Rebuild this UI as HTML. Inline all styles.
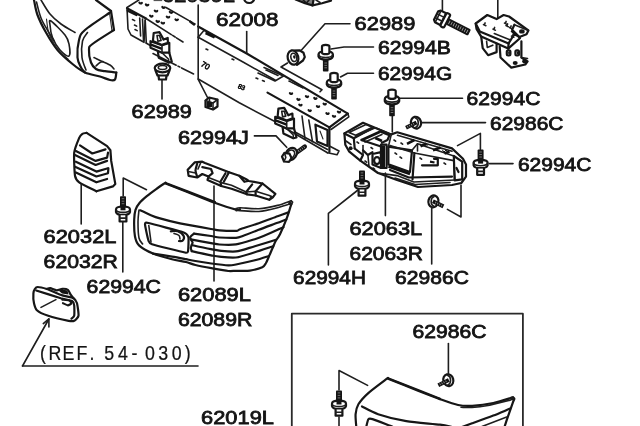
<!DOCTYPE html>
<html><head><meta charset="utf-8"><title>Front bumper parts diagram</title>
<style>
html,body{margin:0;padding:0;background:#fff;overflow:hidden}
svg{display:block}
text{font-family:"Liberation Sans",Arial,sans-serif;font-size:18.6px;fill:#141414;stroke:#141414;stroke-width:0.8px}
.l{fill:none;stroke:#1e1e1e;stroke-width:1.6;stroke-linecap:round;stroke-linejoin:round}
.t{fill:none;stroke:#262626;stroke-width:1.1;stroke-linecap:round;stroke-linejoin:round}
.b{fill:none;stroke:#161616;stroke-width:2.2;stroke-linecap:round;stroke-linejoin:round}
.wf{fill:#fff}
.f{fill:#141414;stroke:none}
text.ref{font-size:20.2px;stroke-width:0.25px}
</style></head><body>
<svg width="640" height="426" viewBox="0 0 640 426">
<defs><filter id="g" x="0" y="0" width="640" height="426" filterUnits="userSpaceOnUse"><feOffset dx="0" dy="0"/></filter></defs>
<rect width="640" height="426" fill="#fff"/>
<g id="all" filter="url(#g)">
<g id="labels">
<text x="216.1" y="26.2" textLength="62.3" lengthAdjust="spacingAndGlyphs">62008</text>
<text x="354.6" y="29.6" textLength="60.8" lengthAdjust="spacingAndGlyphs">62989</text>
<text x="377.9" y="54.3" textLength="73" lengthAdjust="spacingAndGlyphs">62994B</text>
<text x="377.9" y="79.5" textLength="74.3" lengthAdjust="spacingAndGlyphs">62994G</text>
<text x="466.6" y="105" textLength="73.8" lengthAdjust="spacingAndGlyphs">62994C</text>
<text x="490.1" y="129.6" textLength="73.3" lengthAdjust="spacingAndGlyphs">62986C</text>
<text x="517.9" y="170.5" textLength="73.5" lengthAdjust="spacingAndGlyphs">62994C</text>
<text x="131.6" y="118" textLength="60.3" lengthAdjust="spacingAndGlyphs">62989</text>
<text x="177.9" y="143.8" textLength="71" lengthAdjust="spacingAndGlyphs">62994J</text>
<text x="43.6" y="243" textLength="72.8" lengthAdjust="spacingAndGlyphs">62032L</text>
<text x="43.6" y="268" textLength="74.3" lengthAdjust="spacingAndGlyphs">62032R</text>
<text x="86.6" y="292.5" textLength="74.3" lengthAdjust="spacingAndGlyphs">62994C</text>
<text x="177.9" y="301.2" textLength="73" lengthAdjust="spacingAndGlyphs">62089L</text>
<text x="177.9" y="326.2" textLength="74.5" lengthAdjust="spacingAndGlyphs">62089R</text>
<text x="349.5" y="234.8" textLength="72.7" lengthAdjust="spacingAndGlyphs">62063L</text>
<text x="349.5" y="259.5" textLength="73.4" lengthAdjust="spacingAndGlyphs">62063R</text>
<text x="293.1" y="284.4" textLength="72.8" lengthAdjust="spacingAndGlyphs">62994H</text>
<text x="395.1" y="284.4" textLength="73.8" lengthAdjust="spacingAndGlyphs">62986C</text>
<text x="412.5" y="337.8" textLength="74" lengthAdjust="spacingAndGlyphs">62986C</text>
<text x="201.1" y="424.4" textLength="72.8" lengthAdjust="spacingAndGlyphs">62019L</text>
<text x="162.1" y="1.6" textLength="72.8" lengthAdjust="spacingAndGlyphs">62059L</text>
<text class="ref" transform="scale(0.88,1)" y="360.2" x="45.6 55.0 70.9 86.8 101.8 111.4 118.5 134.2 149.3 164.7 179.9 195.2 209.9">(REF. 54-030)</text>
</g>
<g id="art">
<path class="b" d="M34,0 C34.6,2.5 35.5,9.6 37.5,15 C39.5,20.4 42.7,26.7 46,32.5 C49.3,38.3 53.1,44.8 57.5,50 C61.9,55.2 67.9,60.2 72.5,64 C77.1,67.8 80.4,70.4 85,72.5 C89.6,74.6 95.8,75.2 100,76.5 C104.2,77.8 107.5,79.5 110,80 C112.5,80.5 114,80.8 115,79.5 C116,78.2 116.1,73.7 116.3,72.5"/>
<path class="l" d="M36.5,2 C37.2,4.7 39.1,13.2 41,18 C42.9,22.8 45.8,27.2 48,31 C50.2,34.8 53,39.3 54,41"/>
<path class="b" d="M96,0 L111,11"/>
<path class="b" d="M111,11 L114,30"/>
<path class="t" d="M109.5,12.5 L112,31"/>
<path class="b" d="M114,30 C110.4,32.3 96.7,40.7 92.5,44 C88.3,47.3 89.2,46.9 89,50 C88.8,53.1 89.8,59.3 91,62.5 C92.2,65.7 93.7,67.5 96,69 C98.3,70.5 101.6,70.6 105,71.2 C108.4,71.8 114.4,72.3 116.3,72.5"/>
<path class="l" d="M94,57.5 C94.8,57.9 96.3,58.8 99,60 C101.7,61.2 107.5,63.5 110,65 C112.5,66.5 113.3,68.3 114,69"/>
<path class="l" d="M96,66 C96.7,65.4 98.8,63.2 100,62.5 C101.2,61.8 102.5,61.7 103,61.5"/>
<path class="b" d="M110,12.5 C105.8,15.4 90.2,25.4 85,30 C79.8,34.6 80.2,35.4 79,40 C77.8,44.6 77.2,52.9 77.5,57.5 C77.8,62.1 79.8,65 81,67.5 C82.2,70 84.3,71.7 85,72.5"/>
<path class="l" d="M87.5,32.5 C86.7,33.9 83.4,36.8 82.5,41 C81.6,45.2 81.4,52.7 82,57.5 C82.6,62.3 85.3,67.9 86,70"/>
<path class="l" d="M41,0 C42.5,2.3 46.7,10 50,14 C53.3,18 56.8,20.9 61,24 C65.2,27.1 72.7,31.1 75,32.5"/>
<path class="l" d="M51,21 C53.5,22.7 62,31.2 65,35 C68,38.8 68.3,40.5 69,44 C69.7,47.5 70.5,55 69,56 C67.5,57 62.8,53.1 60,50 C57.2,46.9 54.2,41.7 52.5,37.5 C50.8,33.3 50.2,27.8 50,25 C49.8,22.2 48.5,19.3 51,21 Z"/>
<path class="t" d="M46.5,19 C46.8,21.2 47.4,28.2 48.5,32 C49.6,35.8 51.1,38.7 53,42 C54.9,45.3 57.5,49.2 60,52 C62.5,54.8 66.7,57.8 68,59"/>
<path class="l" d="M127,7.5 L138.8,0"/>
<path class="b" d="M127,8.3 L146,18.5"/>
<path class="l" d="M127,8 L128,29 L131,35 L144,42.3 L145.2,20"/>
<path class="l" d="M142.5,19 L143.5,40.5"/>
<path class="l" d="M145.2,20 L146.3,43"/>
<path class="l" d="M146,18.5 L183,42" stroke-dasharray="30 1.5 3 1.5"/>
<path class="l" d="M166,7.5 L195,24" stroke-dasharray="26 1.5 3 1.5"/>
<path class="l" d="M153,53.5 L193.6,74" stroke-dasharray="26 2 2 2"/>
<path class="l" d="M146,43 L152,46.5"/>
<path class="b" d="M139.4,2.6 q1.2,1.6 2.4,0.3"/>
<path class="b" d="M145.9,4.5 q1.2,1.6 2.4,0.3"/>
<path class="b" d="M150.1,15.7 q1.2,1.6 2.4,0.3"/>
<path class="b" d="M156.6,21 q1.2,1.6 2.4,0.3"/>
<path class="b" d="M161.6,22.6 q1.2,1.6 2.4,0.3"/>
<path class="b" d="M162.4,7 q1.2,1.6 2.4,0.3"/>
<path class="b" d="M169.8,11.9 q1.2,1.6 2.4,0.3"/>
<path class="b" d="M175.5,19.3 q1.2,1.6 2.4,0.3"/>
<path class="b" d="M154.8,10.6 q1.2,1.6 2.4,0.3"/>
<path class="b" d="M166.8,16.6 q1.2,1.6 2.4,0.3"/>
<path class="l" d="M132.5,19.5 l2.2,1.1"/>
<path class="l" d="M134.5,25 l2.2,1.1"/>
<path class="l" d="M135,29.5 l2.2,1.1"/>
<path class="b" d="M127.6,10.8 L136.5,15"/>
<path class="l" d="M139.7,18 L140.6,36"/>
<path class="b" d="M190,21.5 l4,3"/>
<path class="b" d="M198.1,26.5 L246.7,53.5 L347.8,113.6"/>
<path class="l" d="M198.2,37.2 L203.5,30.9"/>
<path class="l" d="M198.2,37.2 L243,62 L275,80"/>
<path class="t" d="M205,31.5 L215,37"/>
<path d="M205.6,33 L214.6,37.4" stroke="#111" stroke-width="2.6" fill="none"/>
<path class="l" d="M264,67.5 L283.5,76 L275,81 L258,73"/>
<path class="l" d="M266,70 l12,5.5" stroke-dasharray="2 1"/>
<path class="l" d="M289,81 l14,7" stroke-dasharray="2 1"/>
<path class="l" d="M287.5,63 L281,67 L322,89.8 L320,91.8"/>
<path class="b" d="M267.5,92.6 L329.4,127.4"/>
<path class="b" d="M347.8,113.6 L329.4,127.4"/>
<path class="l" d="M347.8,113.6 L348.8,116.8 L331,129.5"/>
<path class="b" d="M329.4,127.4 L329.4,152"/>
<path class="l" d="M329.4,146 L339,151 L337,154.8 L327.5,152.8"/>
<path class="l" d="M295,132 L327.5,149.5"/>
<path class="l" d="M198.2,79 L239.3,102.8 L275.4,121.8 L286,128.5 L327.5,152.8"/>
<path class="b" d="M315.4,124.7 L327.5,130 L327.5,146 L317,141.6 Z"/>
<path class="l" d="M302,116 L305,138.8"/>
<path class="l" d="M308.8,120 L312.5,141.6"/>
<path class="t" d="M320,131 L323,139"/>
<path class="l" d="M206,49 l1.8,0.8"/>
<path class="l" d="M232,59 l1.8,0.8"/>
<path class="l" d="M256,78 l1.8,0.8"/>
<path class="l" d="M262.5,80.5 l1.8,0.8"/>
<path class="b" d="M297.4,99 q1.1,1.5 2.2,0.3"/>
<path class="b" d="M305.9,96.2 q1.1,1.5 2.2,0.3"/>
<path class="b" d="M314.3,98 q1.1,1.5 2.2,0.3"/>
<path class="b" d="M299.3,104.6 q1.1,1.5 2.2,0.3"/>
<path class="b" d="M308.6,110.2 q1.1,1.5 2.2,0.3"/>
<path class="b" d="M323.6,103.6 q1.1,1.5 2.2,0.3"/>
<path class="b" d="M326.4,113.1 q1.1,1.5 2.2,0.3"/>
<path class="b" d="M332.9,115.9 q1.1,1.5 2.2,0.3"/>
<path class="b" d="M289.9,93.1 q1.1,1.5 2.2,0.3"/>
<path class="b" d="M316.9,106.1 q1.1,1.5 2.2,0.3"/>
<path class="b" d="M337.9,111.6 q1.1,1.5 2.2,0.3"/>
<text x="237.4" y="88" style="font-size:6.5px;stroke-width:.6px" transform="rotate(20 237.4 88)">83</text>
<text x="200.2" y="65.5" style="font-size:8px;stroke-width:.6px" transform="rotate(32 200.2 65.5)">70</text>
<path class="b wf" d="M275.2,116.9 L286.7,121 L294,118.6 L294,128.4 L286.7,128.4 L275.2,123.5 Z"/>
<path class="b wf" d="M278.4,108.7 L284.2,107.9 L288.3,115.3 L292.4,113.6 L292.6,118.4 L286.7,120.6 L277.6,116.8 Z"/>
<path class="l" d="M281.7,111.2 L284.2,111.2 L285.8,116.1 L282.6,116.9 Z"/>
<path d="M275.6,120.4 L286.7,124.6" stroke="#111" stroke-width="2.4" fill="none"/>
<path class="l" d="M286.7,121 L286.7,128.4"/>
<path class="b" d="M282.6,127 L283.4,133.4 L293.3,138.3 L296.5,137.5 L294,128.4"/>
<path class="l" d="M286.7,128.4 L293.3,135 L293.3,138.3"/>
<path class="b wf" d="M150.5,41.2 L162,45.3 L169.3,42.9 L169.3,52.7 L162,52.7 L150.5,47.8 Z"/>
<path class="b wf" d="M153.7,33 L159.5,32.2 L163.6,39.6 L167.7,37.9 L167.9,42.7 L162,44.9 L152.9,41.1 Z"/>
<path class="l" d="M157,35.5 L159.5,35.5 L161.1,40.4 L157.9,41.2 Z"/>
<path d="M150.9,44.7 L162,48.9" stroke="#111" stroke-width="2.4" fill="none"/>
<path class="l" d="M162,45.3 L162,52.7"/>
<path class="b" d="M157.9,51.3 L158.7,57.7 L168.6,62.6 L171.8,61.8 L169.3,52.7"/>
<path class="l" d="M162,52.7 L168.6,59.3 L168.6,62.6"/>
<ellipse class="b wf" cx="162.5" cy="68" rx="7.8" ry="4.3"/>
<ellipse class="l" cx="162.5" cy="67.5" rx="4.2" ry="2"/>
<path class="b" d="M155.5,70.5 L157.5,75.5 L167.5,75.5 L169.5,70.5"/>
<path class="b" d="M158.5,75.5 L159,79.5 L166,79.5 L166.5,75.5"/>
<path class="l" d="M162,80 L162,99"/>
<path class="b wf" d="M291.5,50.6 L299.5,50.3 L303.5,52.8 L304.8,57 L303,60.5 L297,64.8"/>
<ellipse class="b wf" cx="293" cy="57.6" rx="5.3" ry="7.2" transform="rotate(-14 293 57.6)"/>
<ellipse class="l" cx="293.8" cy="57.4" rx="2.9" ry="4.2" transform="rotate(-14 293.8 57.4)"/>
<ellipse class="f" cx="294.3" cy="57" rx="1.2" ry="1.8" transform="rotate(-14 294.3 57)"/>
<path class="l" d="M301.5,50 L325,23.8 L350,23.8"/>
<path class="b wf" d="M205.5,100.5 L209,97.5 L217.5,99.5 L217.5,106.5 L213,109.5 L205.5,107 Z"/>
<path class="l" d="M205.5,100.5 L213,103 L217.5,99.5"/>
<path class="l" d="M213,103 L213,109.5"/>
<rect class="f" x="206.5" y="102" width="5.5" height="5" />
<path class="l" d="M209.5,98.5 L209.5,102"/>
<path class="l" d="M198.2,5 L198.2,79.4 L207.5,97.5"/>
<path class="l" d="M246.7,31.6 L246.7,53"/>
<path class="l" d="M331,49 L344,47 L373.5,47"/>
<path class="l" d="M340.5,77 L347.5,73.3 L373.5,73.3"/>
<path class="l" d="M399,98.3 L462.5,98.3"/>
<path class="l" d="M421.5,122.6 L485.5,122.6"/>
<path class="l" d="M489.4,163.6 L513,163.6"/>
<path class="l" d="M254.4,135.9 L276,135.9 L286.7,147.3"/>
<path class="l" d="M392.3,115 L392.3,132"/>
<path class="l" d="M457.5,145.6 L480.4,133.4 L480.4,149.4"/>
<path class="l" d="M442.4,0 L442.4,11"/>
<path class="l" d="M497.8,0 L497.8,18"/>
<g>
<rect class="f" x="322.9" y="59.6" width="5.6" height="12" rx="0.8"/>
<path d="M324.4,63 h2.6" stroke="#999" stroke-width="0.7" fill="none"/>
<path d="M324.4,65.4 h2.6" stroke="#999" stroke-width="0.7" fill="none"/>
<path d="M324.4,67.8 h2.6" stroke="#999" stroke-width="0.7" fill="none"/>
<path class="b wf" d="M318.5,54.4 C318.5,50.2 332.9,50.2 332.9,54.4 L332.9,56.4 C331.7,60.8 319.7,60.8 318.5,56.4 Z"/>
<path class="l" d="M318.7,54.6 C319.7,58.4 331.7,58.4 332.7,54.6"/>
<path class="b wf" d="M322,52.8 L322,46.4 C322,44.4 329.4,44.4 329.4,46.4 L329.4,52.8 C328.7,54.6 322.7,54.6 322,52.8 Z"/>
</g>
<g>
<rect class="f" x="331.2" y="87.6" width="5.6" height="12" rx="0.8"/>
<path d="M332.7,91 h2.6" stroke="#999" stroke-width="0.7" fill="none"/>
<path d="M332.7,93.4 h2.6" stroke="#999" stroke-width="0.7" fill="none"/>
<path d="M332.7,95.8 h2.6" stroke="#999" stroke-width="0.7" fill="none"/>
<path class="b wf" d="M326.8,82.4 C326.8,78.2 341.2,78.2 341.2,82.4 L341.2,84.4 C340,88.8 328,88.8 326.8,84.4 Z"/>
<path class="l" d="M327,82.6 C328,86.4 340,86.4 341,82.6"/>
<path class="b wf" d="M330.3,80.8 L330.3,74.4 C330.3,72.4 337.7,72.4 337.7,74.4 L337.7,80.8 C337,82.6 331,82.6 330.3,80.8 Z"/>
</g>
<g>
<rect class="f" x="389.2" y="104.3" width="5.6" height="12" rx="0.8"/>
<path d="M390.7,107.7 h2.6" stroke="#999" stroke-width="0.7" fill="none"/>
<path d="M390.7,110.1 h2.6" stroke="#999" stroke-width="0.7" fill="none"/>
<path d="M390.7,112.5 h2.6" stroke="#999" stroke-width="0.7" fill="none"/>
<path class="b wf" d="M384.8,99.1 C384.8,94.9 399.2,94.9 399.2,99.1 L399.2,101.1 C398,105.5 386,105.5 384.8,101.1 Z"/>
<path class="l" d="M385,99.3 C386,103.1 398,103.1 399,99.3"/>
<path class="b wf" d="M388.3,97.5 L388.3,91.1 C388.3,89.1 395.7,89.1 395.7,91.1 L395.7,97.5 C395,99.3 389,99.3 388.3,97.5 Z"/>
</g>
<g>
<rect class="f" x="477.6" y="149.6" width="6" height="12" rx="0.8"/>
<path d="M479.3,152 h2.6" stroke="#999" stroke-width="0.7" fill="none"/>
<path d="M479.3,154.5 h2.6" stroke="#999" stroke-width="0.7" fill="none"/>
<path d="M479.3,157 h2.6" stroke="#999" stroke-width="0.7" fill="none"/>
<path class="b wf" d="M473.6,162.8 C473.6,158.8 487.6,158.8 487.6,162.8 L487.6,165.2 C486.6,169.2 474.6,169.2 473.6,165.2 Z"/>
<path class="l" d="M473.6,163 C474.6,166.6 486.6,166.6 487.6,163"/>
<rect class="f" x="478.1" y="159.2" width="5" height="4.4"/>
<path class="b wf" d="M477.2,168.6 L477.2,174.8 L484,174.8 L484,168.6"/>
<path class="l" d="M477.4,171.4 L483.8,171.4"/>
</g>
<g>
<rect class="f" x="359" y="170.5" width="6" height="12" rx="0.8"/>
<path d="M360.7,172.9 h2.6" stroke="#999" stroke-width="0.7" fill="none"/>
<path d="M360.7,175.4 h2.6" stroke="#999" stroke-width="0.7" fill="none"/>
<path d="M360.7,177.9 h2.6" stroke="#999" stroke-width="0.7" fill="none"/>
<path class="b wf" d="M355,183.7 C355,179.7 369,179.7 369,183.7 L369,186.1 C368,190.1 356,190.1 355,186.1 Z"/>
<path class="l" d="M355,183.9 C356,187.5 368,187.5 369,183.9"/>
<rect class="f" x="359.5" y="180.1" width="5" height="4.4"/>
<path class="b wf" d="M358.6,189.5 L358.6,195.7 L365.4,195.7 L365.4,189.5"/>
<path class="l" d="M358.8,192.3 L365.2,192.3"/>
</g>
<g>
<rect class="f" x="120" y="196.3" width="6" height="12" rx="0.8"/>
<path d="M121.7,198.7 h2.6" stroke="#999" stroke-width="0.7" fill="none"/>
<path d="M121.7,201.2 h2.6" stroke="#999" stroke-width="0.7" fill="none"/>
<path d="M121.7,203.7 h2.6" stroke="#999" stroke-width="0.7" fill="none"/>
<path class="b wf" d="M116,209.5 C116,205.5 130,205.5 130,209.5 L130,211.9 C129,215.9 117,215.9 116,211.9 Z"/>
<path class="l" d="M116,209.7 C117,213.3 129,213.3 130,209.7"/>
<rect class="f" x="120.5" y="205.9" width="5" height="4.4"/>
<path class="b wf" d="M119.6,215.3 L119.6,221.5 L126.4,221.5 L126.4,215.3"/>
<path class="l" d="M119.8,218.1 L126.2,218.1"/>
</g>
<g>
<rect class="f" x="336" y="390.5" width="6" height="12" rx="0.8"/>
<path d="M337.7,392.9 h2.6" stroke="#999" stroke-width="0.7" fill="none"/>
<path d="M337.7,395.4 h2.6" stroke="#999" stroke-width="0.7" fill="none"/>
<path d="M337.7,397.9 h2.6" stroke="#999" stroke-width="0.7" fill="none"/>
<path class="b wf" d="M332,403.7 C332,399.7 346,399.7 346,403.7 L346,406.1 C345,410.1 333,410.1 332,406.1 Z"/>
<path class="l" d="M332,403.9 C333,407.5 345,407.5 346,403.9"/>
<rect class="f" x="336.5" y="400.1" width="5" height="4.4"/>
<path class="b wf" d="M335.6,409.5 L335.6,415.7 L342.4,415.7 L342.4,409.5"/>
<path class="l" d="M335.8,412.3 L342.2,412.3"/>
</g>
<g>
<ellipse class="b wf" cx="416" cy="122.7" rx="5" ry="6" transform="rotate(-15 416 122.7)"/>
<path class="l" d="M415.5,118.1 C419.2,119.2 419.2,126.2 415.5,127.5"/>
<path d="M416.5,122.5 L406,127.7" stroke="#111" stroke-width="4" fill="none" stroke-linecap="butt"/>
<path d="M414,123.7 L406.5,127.4" stroke="#aaa" stroke-width="1.8" fill="none" stroke-dasharray="0.7 1.5"/>
</g>
<g transform="translate(866.8,0) scale(-1,1)">
<ellipse class="b wf" cx="433.4" cy="201.4" rx="5" ry="6" transform="rotate(-15 433.4 201.4)"/>
<path class="l" d="M432.9,196.8 C436.6,197.9 436.6,204.9 432.9,206.2"/>
<path d="M433.9,201.2 L423.4,206.4" stroke="#111" stroke-width="4" fill="none" stroke-linecap="butt"/>
<path d="M431.4,202.4 L423.9,206.1" stroke="#aaa" stroke-width="1.8" fill="none" stroke-dasharray="0.7 1.5"/>
</g>
<g>
<ellipse class="b wf" cx="448.3" cy="380.2" rx="5" ry="6" transform="rotate(-15 448.3 380.2)"/>
<path class="l" d="M447.8,375.6 C451.5,376.7 451.5,383.7 447.8,385"/>
<path d="M448.8,380 L438.3,385.2" stroke="#111" stroke-width="4" fill="none" stroke-linecap="butt"/>
<path d="M446.3,381.2 L438.8,384.9" stroke="#aaa" stroke-width="1.8" fill="none" stroke-dasharray="0.7 1.5"/>
</g>
<path d="M295.7,153.2 L304.8,146.6" stroke="#111" stroke-width="4.4" fill="none" stroke-linecap="round"/>
<path d="M296.5,152.6 L304.4,146.9" stroke="#aaa" stroke-width="2.4" fill="none" stroke-dasharray="0.7 1.6"/>
<ellipse class="b wf" cx="291.2" cy="154" rx="5.2" ry="6.6" transform="rotate(35 291.2 154)"/>
<ellipse class="l" cx="290.4" cy="154.6" rx="3.6" ry="5" transform="rotate(35 290.4 154.6)"/>
<path class="b wf" d="M282,156.5 L284.5,152.8 L289.5,153.6 L291.5,158 L289,161.8 L284,161.5 Z"/>
<path class="l" d="M284.5,152.8 L285.8,157.5 L284,161.5"/>
<g transform="rotate(27 441 18)">
<rect class="f" x="448" y="14.6" width="25" height="7" rx="1.2"/>
<path d="M450,18.1 h22" stroke="#aaa" stroke-width="3.6" stroke-dasharray="0.8 1.7" fill="none"/>
<path class="b wf" d="M435.5,13.3 L437.5,11.5 L443.5,11.5 L443.5,24.5 L437.5,24.5 L435.5,22.7 Z"/>
<path class="l" d="M437.8,12 L437.8,24"/>
<path class="l" d="M435.8,16 L443,16"/>
<path class="l" d="M435.8,20.3 L443,20.3"/>
<rect x="443.8" y="10.6" width="4.2" height="15" rx="1.6" class="b wf"/>
</g>
<path class="b wf" d="M475.7,23.5 L487.3,15 L496.6,19.1 L503.6,15 L509,16.5 L528.4,30.4 L526.5,34.3 L519.4,37.1 L514.4,34 L508.6,43.4 L479.8,31.4 Z"/>
<path class="b" d="M475.7,23.5 L476.5,28.9 L481.2,36.6 L508.2,48.6 L508.6,43.4"/>
<path class="b" d="M508.2,48.6 L519.9,38.2 L519.4,37.1"/>
<path class="b" d="M514.4,24.7 L512.1,29.7 L519.4,37.1"/>
<path class="l" d="M514.4,24.7 L528.4,30.4"/>
<path d="M511.5,30.5 L516.5,35.2" stroke="#111" stroke-width="2.8" fill="none"/>
<ellipse class="b" cx="521.9" cy="31.4" rx="1.7" ry="1.1"/>
<path class="b" d="M481.2,36.6 L482.7,48.2 L488.1,55.2 L496.6,52.1 L496.6,43.6"/>
<path class="l" d="M486.6,41.3 L487.3,47.5 L492.8,45.2"/>
<path class="b" d="M499.7,46.7 L500.5,57.5 L511.3,67.6 L525.3,64.5 L527.6,61.4 L521.4,57.5 L521.4,41.3"/>
<rect class="b" x="506.8" y="50.3" width="3.6" height="5.2" rx="1.4"/>
<rect class="f" x="508.2" y="51.6" width="1.6" height="3" rx="0.6"/>
<rect class="b" x="515.4" y="50.3" width="3.6" height="5.2" rx="1.4"/>
<rect class="f" x="516.8" y="51.6" width="1.6" height="3" rx="0.6"/>
<ellipse class="f" cx="515.2" cy="63" rx="2.5" ry="2"/>
<ellipse class="f" cx="524.6" cy="61.2" rx="2.4" ry="2.4"/>
<path class="l" d="M521.4,57.5 L527.5,58.5"/>
<path class="l" d="M483.5,24.5 l2.4,1.2 M484.5,25.1 l0.6,-2.2"/>
<path class="l" d="M493,29 l2.4,1.2 M494,29.6 l0.6,-2.2"/>
<path class="l" d="M504.5,23 l2.4,1.2 M505.5,23.6 l0.6,-2.2"/>
<path class="l" d="M511.5,36 l2.4,1.2 M512.5,36.6 l0.6,-2.2"/>
<path class="l" d="M506,25.5 l2.4,1.2 M507,26.1 l0.6,-2.2"/>
<path class="l" d="M509.5,27.5 l2.4,1.2 M510.5,28.1 l0.6,-2.2"/>
<path class="l" d="M494.3,33.5 L509.8,39.7"/>
<g style="stroke-width:2.3">
<path class="b" d="M344.4,133.4 L363,122.8 L391.3,134.4 L397.3,132.3 L452,148.4 L463,158.8 L466,164.4 L466,176.6 L461.3,183 L452,185 L418,187 L397,180 L378,173 L360.3,160.6 L349,151.3 L345.3,144.7 Z"/>
</g>
<path class="b" d="M344.4,133.4 L353.8,138.2 L354.7,148.5"/>
<path class="b" d="M353.8,138.2 L372.5,128"/>
<path class="l" d="M349,132.5 L366,124.6 L372.5,127.3 L355.6,135.3 Z"/>
<path class="l" d="M355.6,136.6 L375.3,127.8 L391.3,134.4"/>
<path d="M361.3,140.2 L380,131.8" stroke="#111" stroke-width="2.8" fill="none"/>
<path class="b" d="M380,131.6 L389.4,135.3 L387.5,140 L381.9,142.8"/>
<path class="l" d="M365,142 L381.9,134.4"/>
<path class="b" d="M361.3,140 L381,146.5"/>
<path d="M375.3,138 L382,141" stroke="#111" stroke-width="2.6" fill="none"/>
<path class="b" d="M381,144.7 L386.6,144.7 L386.6,168 L381,168 Z"/>
<rect class="f" x="381.6" y="145.5" width="3.4" height="22"/>
<path class="b" d="M388.4,146.6 L412,150.3 L410,172 L388.4,164.4 Z"/>
<path class="l" d="M391.3,134.4 L388.4,146.6"/>
<path class="l" d="M412,150.3 L417.5,143.8 L453.8,156"/>
<path class="l" d="M397.5,135.3 L452,151.3"/>
<path class="l" d="M417.5,143.8 L417.5,151"/>
<path class="b" d="M414.4,153 L412.5,179.4"/>
<path class="l" d="M390,145.6 L414.4,153 L453.8,160.6 L454.7,179.4"/>
<path class="b" d="M453.8,156 L462.2,161.6 L462.2,179.4 L454.7,180.3 L453.8,156"/>
<path class="b" d="M390,170 L408.8,177.5 L452,176.6"/>
<path class="l" d="M378,173 L397,175.6 L413.8,182 L455,180"/>
<path d="M388.4,166.5 L410,174" stroke="#111" stroke-width="2.6" fill="none"/>
<ellipse class="b" cx="377" cy="160.6" rx="2.9" ry="3.5"/>
<path class="b" d="M372.5,154 L381,152.2 L381,168 L372.5,164.4 Z"/>
<path class="b" d="M354.7,148.5 L363,155 L360.3,160.6"/>
<path class="l" d="M363,145.6 L363,155"/>
<path class="b" d="M363,150.3 L367.8,155 L372.5,152.2"/>
<path class="l" d="M368,156 L369,166.5"/>
<path class="l" d="M346,141 L351,144.5"/>
<ellipse class="f" cx="350.6" cy="148.3" rx="2" ry="2"/>
<path d="M407,143.8 l7.4,-3.8 M433,150.3 l7.6,-2.8 M420.5,146.3 l6,-2.7 M444.5,153.5 l5,-2" stroke="#111" stroke-width="2.6" fill="none"/>
<path d="M420,143.5 l2,2.5 l2,-2 l2,2.5 l2,-2 M442,149.5 l2,2.5 l2,-2 l2,2.5" stroke="#111" stroke-width="1" fill="none"/>
<path class="b" d="M422,165.3 L437,165.3"/>
<path class="b" d="M434,158.8 L437.8,158.8 L437.8,165.3"/>
<path d="M430,161.7 l4.5,0.8" stroke="#111" stroke-width="2.2" fill="none"/>
<path class="l" d="M395,178 L415,184.5 L450,182.5"/>
<path class="b" d="M456.5,168 L458.5,172"/>
<path class="l" d="M357,142 l1.6,1.2"/>
<path class="l" d="M371,147.5 l1.6,1.2"/>
<path class="l" d="M373,168 l1.6,1.2"/>
<path class="l" d="M365,161 l1.6,1.2"/>
<path class="l" d="M394,140 l1.6,1.2"/>
<path class="l" d="M401,143 l1.6,1.2"/>
<path class="l" d="M420,158 l1.6,1.2"/>
<path class="l" d="M444,163 l1.6,1.2"/>
<path class="l" d="M400,157 l1.6,1.2"/>
<path class="l" d="M395,153 l1.6,1.2"/>
<path class="l" d="M358,190 L328.4,213.4 L328.4,265"/>
<path class="l" d="M385.4,173 L385.4,215.6"/>
<path class="l" d="M431.7,207 L431.7,264"/>
<path class="l" d="M461,185 L461,217 L447.4,209.4"/>
<path class="b" d="M86.6,132.9 C86.2,133 83.1,133.3 82.4,133.8 C81.7,134.3 80,136 79.2,137.9 C78.4,139.8 74.6,148.9 74.2,152.7 C73.8,156.5 74.5,172.7 75,175.7 C75.5,178.7 77.1,180.7 79.2,182.3 C81.3,183.9 94.7,190.4 96.4,191.3"/>
<path class="b" d="M96.4,191.3 L112.9,186.4 L115.3,183.9 L111.2,160.9 L110.4,150.2 L107.1,146.1 L86.6,132.9"/>
<path class="b" d="M80,145.3 L92.3,153.5 L105.5,149.4"/>
<path class="b" d="M75.9,151 L95.6,160.9 L107.1,157.6 L108,152.7"/>
<path class="b" d="M75,155.1 L95.6,165 L107.1,160.9"/>
<path class="b" d="M75.9,161.7 L96.4,171.6 L108,168.3"/>
<path class="b" d="M75,166.7 L96.4,176.5 L108,173.2 L108.4,168.3"/>
<path class="b" d="M75.9,172.4 L96.4,182.3 L107.1,179"/>
<path class="l" d="M81.2,184.5 L81.2,224"/>
<path class="l" d="M146.5,189.7 L123.2,178 L123.2,196"/>
<path class="l" d="M122.8,222 L122.8,272"/>
<path class="b" d="M187.7,169.8 L194.6,162.4 L202.3,161.7 L205,163 L229,172.3 L239.3,175.8 L246.2,179.2 L248.7,181 L253.9,181.8 L262.5,183.5 L271,190.4 L275.4,193.8 L272.8,197.3 L269.3,199.8 L255.6,195.5 L247,194.3 L231.5,188.7 L221.2,186 L207.5,180 L208.4,176.6 L202.3,174 L197.2,177.5 L188.6,175.8 Z"/>
<path class="b" d="M202.3,167.2 L211,169 L212.6,173.2 L208.4,176.6"/>
<path class="b" d="M197.2,163.7 C196.9,164.8 195.5,168.4 195.5,170.6 C195.5,172.8 196.9,175.6 197.2,176.6"/>
<path class="l" d="M200.6,163 C200.2,164 198.4,168 198,169"/>
<path class="l" d="M188.5,171.5 L195.5,173"/>
<path class="b" d="M225.5,173.2 L220.4,181.8 L221.2,186"/>
<path class="b" d="M229,172.3 L223.8,181.8"/>
<path class="b" d="M239.3,175.8 L244.4,181.8 L247.9,181"/>
<path class="b" d="M252.2,184.4 L246.2,192 L247,194.3"/>
<path class="b" d="M262.5,183.5 L255.6,191.2 L255.6,195.5"/>
<path class="l" d="M208.4,177.5 L221.2,182.6 L231.5,185.2 L246.2,192 L255.6,191.2 L269.3,195.5 L272.8,197.3"/>
<path class="l" d="M269.3,199.8 L271.5,196.5"/>
<path class="l" d="M214,186 L214,281"/>
<path class="b" d="M165.6,183 L188,191.6 L215,202"/>
<path class="b" d="M165.6,183.4 C168.6,184.6 181.5,189.6 188,192.2 C194.5,194.8 208.3,200.5 214.7,202.8 C221.1,205.1 232.6,208.7 236,209.6 C239.4,210.5 239.5,209.3 240,209.2"/>
<path class="l" d="M236,208.6 C236.5,208.5 237,207.7 240,207.7 C243,207.7 253.8,209 258.8,208.7 C263.8,208.4 273.3,206.5 277.6,205.4 C281.9,204.3 289.4,201.3 291.2,200.7"/>
<path class="l" d="M236,210.6 C236.5,210.6 237,210.5 240,210.6 C243,210.7 253.8,211.9 258.8,211.5 C263.8,211.1 273.3,208.8 277.6,207.7 C281.9,206.6 289,204.1 290.7,203.5"/>
<path class="l" d="M291.2,200.7 L292.6,202.1 L291.2,205.4"/>
<path class="b" d="M165.6,182.6 C164.3,183.5 158.7,187.3 156.2,189.1 C153.7,190.9 149.1,194.3 146.8,196.2 C144.5,198.1 140.8,201.4 139.3,203.2 C137.8,205 136.2,207.6 135.5,209.8 C134.8,212 134.3,216.1 134.2,219.6 C134.1,223.1 134.3,232.6 134.9,236 C135.5,239.4 136.6,243.1 139,245.4 C141.4,247.7 148.6,251.7 153,253.6 C157.4,255.5 167.6,258.2 172,259.3 C176.4,260.4 182.9,261.2 186,262 C189.1,262.8 192,264.2 195.4,265 C198.8,265.8 207,267.4 211.4,268.2 C215.8,269 225,270.7 228.3,271 C231.6,271.3 233.1,270.9 236,270.8 C238.9,270.7 246.5,271.1 250,270.6 C253.5,270.1 260.2,268.3 262.3,267.3 C264.4,266.3 265.1,264.4 266,263 C266.9,261.6 268,258.5 268.9,256.5 C269.8,254.5 271.7,250 272.6,248 C273.5,246 274.4,243.4 275.4,241.5 C276.4,239.6 278.6,237.2 280.1,234 C281.6,230.8 285.5,221.5 287,217.6 C288.5,213.7 290.6,206.2 291.2,204.5"/>
<path class="b" d="M140.2,210.3 C141.7,211 148.9,214.3 151.5,215.4 C154.1,216.5 156.2,217.3 160,218.4 C163.8,219.5 173.2,222 180,223.4 C186.8,224.8 205.7,228.1 211,229 C216.3,229.9 216,230 219.4,230.3 C222.8,230.6 233.6,231 236.3,230.9 C239,230.8 237,230.3 240,229.3 C243,228.3 253.8,224.9 258.8,223.2 C263.8,221.5 273.7,217.6 277.6,216.2 C281.5,214.8 287,212.9 288.4,212.4"/>
<path class="l" d="M139,210 C138.8,212 138,217.3 138,222 C138,226.7 138.2,234.3 139,238 C139.8,241.7 142,243 142.6,244"/>
<path class="b" d="M145,224.3 C145,222.8 145.3,222.3 148.5,223 C151.7,223.7 180.4,231.3 183.7,232.5 C187,233.7 188,235.6 188.4,237.2 C188.8,238.8 188.3,250 188,251.3 C187.7,252.6 187.9,253.1 184.9,252.5 C181.9,251.9 155,245.2 152,244.2 C149,243.2 149.1,242.4 148.5,240.7 C147.9,239 145,225.8 145,224.3 Z"/>
<path class="l" d="M148.8,225.5 L151,242"/>
<path class="b" d="M170.8,231.3 C172,231.3 175.7,230.5 177.8,231.3 C180,232.1 182.9,234.4 183.7,236 C184.5,237.6 183.3,239.9 182.5,240.7 C181.7,241.5 179.6,240.9 179,241"/>
<path class="l" d="M174,233.5 C174.8,233.8 178,234.6 179,235.5 C180,236.4 179.8,238.4 180,239"/>
<path class="b" d="M194,233.7 C196.3,234 207.6,235.5 211,236 C214.4,236.5 216.1,237.3 219.4,237.5 C222.7,237.7 232.9,238 236,237.8 C239.1,237.6 239.8,237.1 242.8,236 C245.8,234.9 254.2,231.6 258.8,229.8 C263.4,228 273.9,224.2 277.6,222.8 C281.3,221.4 285.1,219.9 286.3,219.5"/>
<path class="b" d="M190.8,239.4 C193.5,239.9 207.2,242.4 211,243.1 C214.8,243.8 216.1,244.3 219.4,244.5 C222.7,244.7 231.3,245.1 236,244.4 C240.7,243.7 251.1,240.3 254.8,239.2 C258.5,238.1 260.5,237.3 263.5,236 C266.5,234.7 274.9,231 277.6,229.8 C280.3,228.6 282.7,227.5 283.5,227.2"/>
<path class="b" d="M191.7,245 C194.3,245.6 207.3,248.5 211,249.2 C214.7,249.9 216.1,250.3 219.4,250.6 C222.7,250.9 231.3,252 236,251.4 C240.7,250.8 249.5,247.7 254.8,246.2 C260.1,244.7 273.2,240.7 276,239.8"/>
<path class="b" d="M191.7,251.1 C194.3,251.7 207.3,254.6 211,255.3 C214.7,256 216.1,256.4 219.4,256.7 C222.7,257 231.3,258.1 236,257.5 C240.7,256.9 249.8,253.8 254.8,252.3 C259.8,250.8 270.7,247 273.2,246.2"/>
<path class="b" d="M153,253.6 C155.5,254 167.6,255.9 172,256.6 C176.4,257.3 182.9,258.6 186,259.2 C189.1,259.8 192,260.4 195.4,261 C198.8,261.6 207,262.9 211.4,263.5 C215.8,264.1 225,265.3 228.3,265.4 C231.6,265.5 232.5,265.2 236,264.5 C239.5,263.8 250.4,261.4 254.8,260.3 C259.2,259.2 267,256.6 268.9,256"/>
<path class="b" d="M194,233.7 C193.5,234.1 190.7,236.2 190.3,237 C189.9,237.8 190.5,238.7 190.8,239.4 C191.1,240.1 192.5,241.7 192.6,242.4 C192.7,243.1 191.9,244.3 191.7,245 C191.5,245.7 190.8,247.2 190.8,248 C190.8,248.8 191.6,250.7 191.7,251.1"/>
<path class="b" d="M34.8,289 C35.2,288.4 36.4,287 37.6,287 C38.8,287 44.3,288.2 46.8,289 C49.3,289.8 59.6,294.5 62.3,295.4 C65,296.3 72,297.4 73.5,298.2 C75,299 76.5,301.4 77,303.2 C77.5,305 78.8,314 78.5,315.8 C78.2,317.6 75.2,320.3 74.2,320.8 C73.2,321.3 71.2,321.3 68.6,320.8 C66,320.3 51.4,316.9 48.2,315.8 C45,314.7 38.3,311.5 36.9,310.2 C35.5,308.9 34.4,304.9 34,303.2 C33.6,301.5 33.3,294.7 33.4,293.3 C33.5,291.9 34.4,289.6 34.8,289 Z"/>
<path class="b" d="M36.2,290.5 C38.7,291.3 57.2,297.1 60.8,298.2 C64.4,299.2 70.8,300.3 72.1,301 C73.4,301.7 74,303.8 74.2,305.3 C74.4,306.8 74.5,314.5 74.2,315.8 C73.9,317.1 71.7,318.4 71.4,318.7"/>
<path class="b" d="M46.8,289 C47.2,288.9 49.2,288 50.3,288.2 C51.4,288.4 55.2,290.2 56.6,290.3 C58,290.4 61,288.9 62.3,288.8 C63.6,288.7 66.9,289.1 67.9,289.8 C68.9,290.5 70,293.7 70.7,294.7 C71.4,295.7 73.2,297.8 73.5,298.2"/>
<path class="f" d="M58.5,290.5 L62.5,289.5 L67.5,290.5 L68.5,294.5 L62,293.5 Z"/>
<path class="l" d="M41,307.4 L55.9,299.6"/>
<path class="b" d="M62.3,299.6 C63,299.7 68.4,300 69.3,300.4 C70.2,300.8 71.5,302.7 71.4,303.2 C71.3,303.7 68.7,305.3 67.9,305.3 C67.1,305.3 63.5,303.4 63,303.2"/>
<path class="l" d="M22.5,366 L48.9,319"/>
<path class="l" d="M43.3,323.6 L48.9,318.9 L48.9,327"/>
<path class="l" d="M22.5,366 L198,366"/>
<path d="M291.8,427 L291.8,313.7 L522.9,313.7 L522.9,427" fill="none" stroke="#2a2a2a" stroke-width="1.8" stroke-linejoin="round"/>
<path class="l" d="M448.4,343.5 L448.4,374"/>
<path class="l" d="M367.6,385.4 L339,370.5 L339,390"/>
<path class="l" d="M339,417 L339,426"/>
<path class="b" d="M388,378.3 L418,390.1 L440,398.7"/>
<path class="b" d="M388,378.7 C392,380.3 411.1,388 418,390.7 C424.9,393.4 434.7,397.2 440,399.1 C445.3,401 453.8,404.1 458.1,405 C462.4,405.9 467.5,406.1 472.2,405.8 C476.9,405.5 487.9,404.1 493.3,403 C498.7,401.9 510.4,398.1 513,397.3"/>
<path class="l" d="M461,407.3 C462.5,407.3 468.6,407.6 472,407.4 C475.4,407.2 481.2,406.8 486.3,405.8 C491.4,404.8 507,400.9 510.2,400.1"/>
<path class="b" d="M388,377.9 C385.4,379.9 372.2,389.6 368.3,393.1 C364.4,396.6 360.1,401.5 358.4,404.3 C356.7,407.1 355.9,411.2 355.6,414.2 C355.3,417.2 356.2,425.3 356.3,427"/>
<path class="b" d="M513,397.3 C513.1,397.4 514.4,398.2 514.4,398.7 C514.4,399.2 513.6,400.6 513,402.2 C512.4,403.8 509.7,411.7 508.8,414.2 C507.9,416.7 504.9,425.7 504.5,427"/>
<path class="b" d="M362,406.5 C364.1,407.5 372.2,412.2 378.1,414.2 C384,416.2 398,419.8 406.3,421.2 C414.6,422.6 433.9,423.9 440,424.7 C446.1,425.5 450.4,426.7 452,427"/>
<path class="b" d="M462,427 C463.4,426.5 468,424.8 472.2,423.3 C476.4,421.8 488.2,417.6 493.3,415.6 C498.4,413.6 507.9,409.5 510.2,408.6"/>
<path class="b" d="M366.2,427 C366.4,426.2 367.7,420.1 368.3,419.3 C368.9,418.5 370.1,418.4 372.5,419.1 C374.9,419.8 390.2,425.8 392.2,426.5"/>
<path class="l" d="M482,426.5 C486.1,424.9 502.6,418.6 506.7,417"/>
<ellipse class="l" cx="511.8" cy="398.5" rx="1" ry="1.2"/>
<ellipse class="l" cx="290" cy="203.3" rx="1" ry="1.2"/>
<ellipse class="b" cx="249.2" cy="-2.2" rx="5.2" ry="5.2"/>
<rect x="153.6" y="-1" width="8.6" height="2.1" fill="#555"/>
<path class="b" d="M295.6,-0.5 L305,3.2 L312.5,5.4 L322,3.2 L331,0.6"/>
<path class="l" d="M303,0 L306.5,3 L309,0"/>
<path class="b" d="M312.5,5.4 L313.5,0"/>
<path class="l" d="M316,0 L320,2.5"/>
<path class="f" d="M299,0 L305,3.2 L312.5,5.4 L313,0 Z" opacity="0.55"/>
</g>
</g>
</svg>
</body></html>
